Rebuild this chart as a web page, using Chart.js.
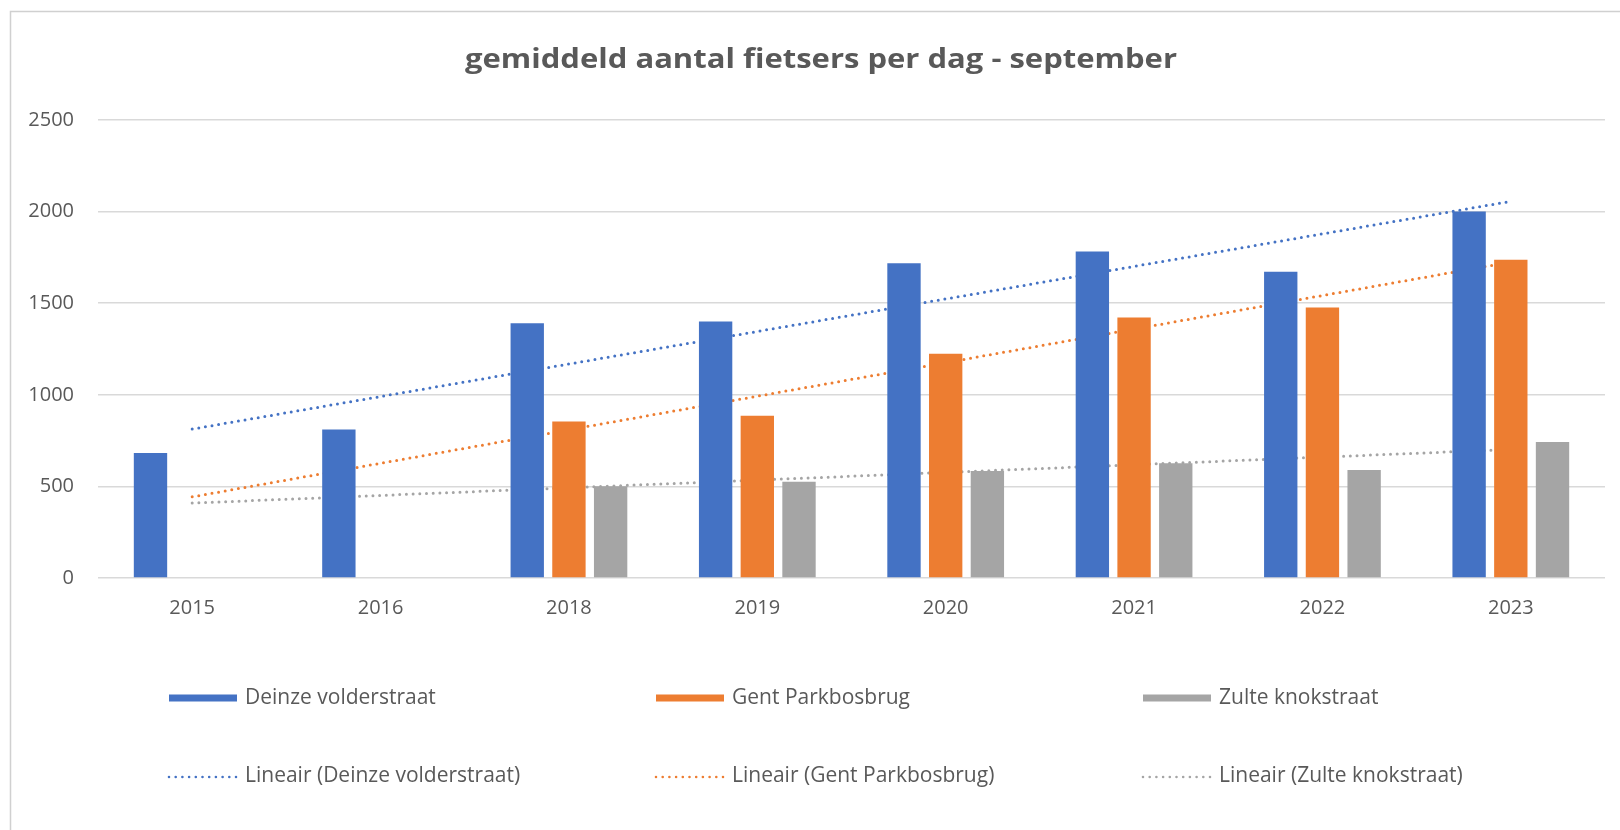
<!DOCTYPE html>
<html>
<head>
<meta charset="utf-8">
<script src="https://cdn.jsdelivr.net/npm/chart.js@4.4.1/dist/chart.umd.min.js"></script>
<style>
html,body{margin:0;padding:0;background:#fff;}
#wrap{width:1620px;height:830px;position:relative;}
canvas{display:block;}
</style>
</head>
<body>
<div id="wrap"><canvas id="c" width="1620" height="830"></canvas></div>
<script>
// ---- data ----
const years = ['2015', '2016', '2018', '2019', '2020', '2021', '2022', '2023'];
const deinze = [682, 810, 1390, 1400, 1718, 1782, 1672, 2001];
const gent = [null, null, 854, 885, 1224, 1422, 1476, 1737];
const zulte = [null, null, 501, 525, 584, 626, 590, 743];
// trendline end points (first and last year)
const trendDeinze = [813, null, null, null, null, null, null, 2056];
const trendGent = [443, null, null, null, null, null, null, 1725];
const trendZulte = [409, null, null, null, null, null, null, 702];
const yTicks = [0, 500, 1000, 1500, 2000, 2500];
const seriesNames = ['Deinze volderstraat', 'Gent Parkbosbrug', 'Zulte knokstraat'];
const trendNames = ['Lineair (Deinze volderstraat)', 'Lineair (Gent Parkbosbrug)', 'Lineair (Zulte knokstraat)'];
const titleText = 'gemiddeld aantal fietsers per dag - september';

// ---- styling ----
const colors = ['#4472C4', '#ED7D31', '#A5A5A5'];
const textColor = '#595959';
const gridColor = '#d9d9d9';
const FONT = "'Open Sans', 'DejaVu Sans', sans-serif";

const barSets = [deinze, gent, zulte].map((d, i) => ({
  type: 'bar', label: seriesNames[i], data: d,
  backgroundColor: colors[i], borderWidth: 0,
  barPercentage: 0.8, categoryPercentage: 0.664, order: 0
}));
const lineSets = [trendDeinze, trendGent, trendZulte].map((d, i) => ({
  type: 'line', label: trendNames[i], data: d,
  borderColor: colors[i], backgroundColor: colors[i],
  borderWidth: 3, borderDash: [0, 6.7], borderCapStyle: 'round',
  pointRadius: 0, spanGaps: true, tension: 0, fill: false, order: 1
}));

const framePlugin = {
  id: 'frame',
  beforeDraw(chart) {
    const ctx = chart.ctx;
    ctx.save();
    ctx.strokeStyle = '#d0d0d0';
    ctx.lineWidth = 1.5;
    ctx.beginPath();
    ctx.moveTo(10.5, 830);
    ctx.lineTo(10.5, 11.5);
    ctx.lineTo(1620, 11.5);
    ctx.stroke();
    ctx.restore();
  }
};

const titlePlugin = {
  id: 'wideTitle',
  afterDraw(chart) {
    const ctx = chart.ctx;
    ctx.save();
    ctx.font = "700 26px " + FONT;
    ctx.fillStyle = textColor;
    ctx.textBaseline = 'alphabetic';
    ctx.textAlign = 'center';
    const w = ctx.measureText(titleText).width;
    const sx = 712 / w;
    ctx.translate(821, 68);
    ctx.scale(sx, 1);
    ctx.fillText(titleText, 0, 0);
    ctx.restore();
  }
};

const legendPlugin = {
  id: 'customLegend',
  afterDraw(chart) {
    const ctx = chart.ctx;
    const ca = chart.chartArea;
    const colX = [169, 656, 1143];
    const rowY = [ca.bottom + 120, ca.bottom + 198];
    const boxW = 68;
    ctx.save();
    ctx.font = "21px " + FONT;
    ctx.textBaseline = 'middle';
    ctx.textAlign = 'left';
    chart.data.datasets.forEach((ds, i) => {
      const isBar = ds.type === 'bar';
      const col = isBar ? i : i - 3;
      const x = colX[col];
      const y = rowY[isBar ? 0 : 1];
      if (isBar) {
        ctx.fillStyle = ds.backgroundColor;
        ctx.fillRect(x, y - 3.5, boxW, 7);
      } else {
        ctx.strokeStyle = ds.borderColor;
        ctx.lineWidth = 2.6;
        ctx.lineCap = 'round';
        ctx.setLineDash([0, 6.7]);
        ctx.beginPath();
        ctx.moveTo(x, y + 1);
        ctx.lineTo(x + boxW, y + 1);
        ctx.stroke();
        ctx.setLineDash([]);
      }
      ctx.fillStyle = textColor;
      ctx.fillText(ds.label, x + boxW + 8, y);
    });
    ctx.restore();
  }
};

new Chart(document.getElementById('c'), {
  type: 'bar',
  data: { labels: years, datasets: [...barSets, ...lineSets] },
  options: {
    responsive: false,
    animation: false,
    devicePixelRatio: 1,
    layout: { padding: { left: 0, right: 15, top: 120, bottom: 210 } },
    plugins: {
      legend: { display: false },
      tooltip: { enabled: false },
      title: { display: false }
    },
    scales: {
      x: {
        grid: { display: false, drawTicks: false },
        border: { display: false },
        ticks: { color: textColor, font: { family: FONT, size: 20 }, padding: 18, maxRotation: 0 },
        afterFit(scale) { scale.height = 42; }
      },
      y: {
        min: 0, max: 2500,
        afterBuildTicks(scale) { scale.ticks = yTicks.map(v => ({ value: v })); },
        grid: { color: gridColor, lineWidth: 1.5, drawTicks: false },
        border: { display: false },
        ticks: { color: textColor, font: { family: FONT, size: 20 }, padding: 24,
                 callback: v => String(v) },
        afterFit(scale) { scale.width = 98; }
      }
    }
  },
  plugins: [framePlugin, titlePlugin, legendPlugin]
});
</script>
</body>
</html>
